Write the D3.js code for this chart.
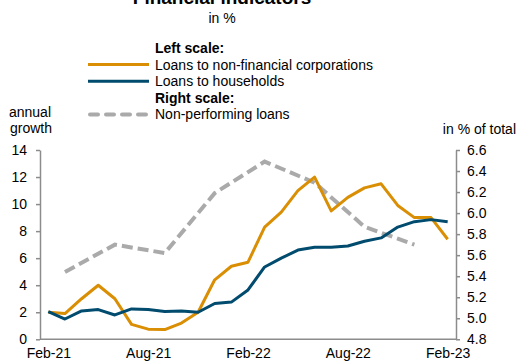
<!DOCTYPE html>
<html>
<head>
<meta charset="utf-8">
<script src="https://cdn.jsdelivr.net/npm/d3@7"></script>
<style>
  body { margin: 0; background: #fff; }
  svg { font-family: "Liberation Sans", Arial, sans-serif; }
</style>
</head>
<body>
<div id="chart"></div>
<script>
// monthly categories
const months = ['Feb-21', 'Mar-21', 'Apr-21', 'May-21', 'Jun-21', 'Jul-21', 'Aug-21', 'Sep-21', 'Oct-21',
    'Nov-21', 'Dec-21', 'Jan-22', 'Feb-22', 'Mar-22', 'Apr-22', 'May-22', 'Jun-22', 'Jul-22', 'Aug-22',
    'Sep-22', 'Oct-22', 'Nov-22', 'Dec-22', 'Jan-23', 'Feb-23'];
const xTickLabels = ['Feb-21', 'Aug-21', 'Feb-22', 'Aug-22', 'Feb-23'];

// left scale, annual growth
const corporations = [2.0, 1.9, 3.0, 4.0, 3.0, 1.1, 0.75, 0.72, 1.2, 2.0, 4.4, 5.4, 5.7, 8.3, 9.4, 11.0,
    12.0, 9.5, 10.5, 11.2, 11.5, 9.9, 9.0, 9.0, 7.4];
const households = [2.05, 1.5, 2.1, 2.2, 1.8, 2.25, 2.2, 2.05, 2.1, 2.0, 2.65, 2.75, 3.65, 5.35, 6.0, 6.6,
    6.8, 6.8, 6.9, 7.25, 7.5, 8.3, 8.7, 8.85, 8.7];

// right scale, quarterly
const nplMonths = ['Mar-21', 'Jun-21', 'Sep-21', 'Dec-21', 'Mar-22', 'Jun-22', 'Sep-22', 'Dec-22'];
const nplValues = [5.44, 5.70, 5.62, 6.19, 6.49, 6.29, 5.87, 5.70];

const leftTicks = [0, 2, 4, 6, 8, 10, 12, 14];
const rightTicks = [4.8, 5.0, 5.2, 5.4, 5.6, 5.8, 6.0, 6.2, 6.4, 6.6];

const width = 518, height = 363;
const plot = { left: 40, right: 456, top: 150, bottom: 339.3 };
const orange = '#d98e04', blue = '#004b6e', grey = '#aaaaaa', axisGrey = '#8c8c8c';
const fs = 14;

const svg = d3.select('#chart').append('svg')
    .attr('width', width)
    .attr('height', height);

// scales
let x = d3.scalePoint().domain(months).range([plot.left, plot.right]).padding(0.5);
let yL = d3.scaleLinear().domain([0, 14]).range([plot.bottom, plot.top]);
let yR = d3.scaleLinear().domain([4.8, 6.6]).range([plot.bottom, plot.top]);

// title (partly above the top edge, as in the original)
svg.append('text').attr('x', 222).attr('y', 4).attr('text-anchor', 'middle')
    .attr('font-size', 19).attr('font-weight', 'bold').text('Financial indicators');
svg.append('text').attr('x', 222).attr('y', 23).attr('text-anchor', 'middle')
    .attr('font-size', fs).text('in %');

// legend
const legend = svg.append('g');
const rows = [
    { label: 'Left scale:', bold: true },
    { label: 'Loans to non-financial corporations', color: orange },
    { label: 'Loans to households', color: blue },
    { label: 'Right scale:', bold: true },
    { label: 'Non-performing loans', color: grey, dash: true }
];
rows.forEach((r, i) => {
    const cy = 48 + i * 16.6;
    if (r.color) {
        legend.append('line')
            .attr('x1', r.dash ? 90 : 88).attr('x2', 149).attr('y1', cy).attr('y2', cy)
            .attr('stroke', r.color)
            .attr('stroke-width', r.dash ? 4 : 3)
            .attr('stroke-linecap', r.dash ? 'round' : 'butt')
            .attr('stroke-dasharray', r.dash ? '8,8' : null);
    }
    legend.append('text').attr('x', 155).attr('y', cy + 5)
        .attr('font-size', fs)
        .attr('font-weight', r.bold ? 'bold' : 'normal')
        .text(r.label);
});

// axis titles
svg.append('text').attr('x', 30).attr('y', 117).attr('text-anchor', 'middle')
    .attr('font-size', fs).text('annual');
svg.append('text').attr('x', 31).attr('y', 133).attr('text-anchor', 'middle')
    .attr('font-size', fs).text('growth');
svg.append('text').attr('x', 516).attr('y', 134).attr('text-anchor', 'end')
    .attr('font-size', fs).text('in % of total');

// axes
const leftAxis = svg.append('g')
    .attr('transform', `translate(${plot.left},0)`)
    .call(d3.axisLeft(yL).tickValues(leftTicks).tickSize(4).tickPadding(9).tickSizeOuter(0));
const rightAxis = svg.append('g')
    .attr('transform', `translate(${plot.right},0)`)
    .call(d3.axisRight(yR).tickValues(rightTicks).tickSize(4).tickPadding(7)
        .tickFormat(d3.format('.1f')).tickSizeOuter(0));
const bottomAxis = svg.append('g')
    .attr('transform', `translate(0,${plot.bottom})`)
    .call(d3.axisBottom(x).tickValues(xTickLabels).tickSize(0).tickPadding(9).tickSizeOuter(0));
bottomAxis.select('.domain').attr('d', `M${plot.left},0H${plot.right}`);

[leftAxis, rightAxis, bottomAxis].forEach(a => {
    a.attr('font-family', null).attr('font-size', fs);
    a.selectAll('.domain').attr('stroke', axisGrey).attr('stroke-width', 1.5);
    a.selectAll('.tick line').attr('stroke', axisGrey).attr('stroke-width', 1.5);
    a.selectAll('.tick text').attr('fill', '#000');
});

// lines
const lineL = d3.line().x((d, i) => x(months[i])).y(d => yL(d));
const lineR = d3.line().x((d, i) => x(nplMonths[i])).y(d => yR(d));

svg.append('path').datum(nplValues)
    .attr('d', lineR)
    .attr('fill', 'none').attr('stroke', grey).attr('stroke-width', 4)
    .attr('stroke-dasharray', '11,5');

svg.append('path').datum(corporations)
    .attr('d', lineL)
    .attr('fill', 'none').attr('stroke', orange).attr('stroke-width', 3)
    .attr('stroke-linejoin', 'round');

svg.append('path').datum(households)
    .attr('d', lineL)
    .attr('fill', 'none').attr('stroke', blue).attr('stroke-width', 3)
    .attr('stroke-linejoin', 'round');
</script>
</body>
</html>
